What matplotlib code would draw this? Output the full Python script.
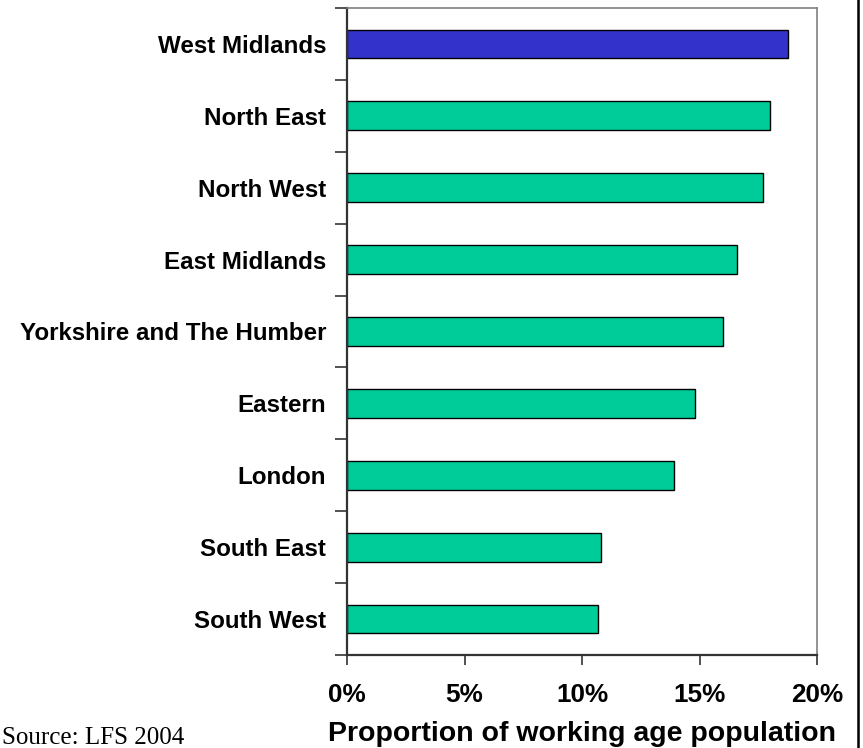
import matplotlib
matplotlib.use("Agg")
import matplotlib.pyplot as plt
from matplotlib.lines import Line2D
from matplotlib.ticker import FuncFormatter

# Regions, top to bottom, with share of working age population (%)
regions = ["West Midlands", "North East", "North West", "East Midlands",
           "Yorkshire and The Humber", "Eastern", "London", "South East",
           "South West"]
shares = [18.75, 18.0, 17.7, 16.6, 16.0, 14.8, 13.9, 10.8, 10.7]
highlight = "West Midlands"
x_ticks = [0, 5, 10, 15, 20]

W, H, DPI = 863, 748, 100
fig = plt.figure(figsize=(W / DPI, H / DPI), dpi=DPI)
fig.patch.set_facecolor("white")

left, right, top, bottom = 347, 817, 8, 655
ax = fig.add_axes([left / W, 1 - bottom / H, (right - left) / W, (bottom - top) / H])

pos = list(range(len(regions)))
colors = ["#3333CC" if r == highlight else "#00CC99" for r in regions]
ax.barh(pos, shares, height=0.4, color=colors, edgecolor="black", linewidth=1.0)

ax.set_ylim(len(regions) - 0.5, -0.5)
ax.set_xlim(0, 20)

label_font = dict(family="Liberation Sans", weight="bold")

ax.set_yticks(pos)
ax.set_yticklabels(regions, fontsize=17.4, **label_font)
ax.tick_params(axis="y", which="major", length=0, pad=15)
ax.set_yticks([p - 0.5 for p in pos] + [len(regions) - 0.5], minor=True)
ax.tick_params(axis="y", which="minor", length=9, width=1.2, color="#333333", direction="out")

ax.set_xticks(x_ticks)
ax.xaxis.set_major_formatter(FuncFormatter(lambda v, _: f"{v:.0f}%"))
for t in ax.get_xticklabels():
    t.set_fontsize(18.8)
    t.set_fontfamily("Liberation Sans")
    t.set_fontweight("bold")
ax.tick_params(axis="x", length=7, width=1.2, color="#333333", direction="out", pad=13)

ax.set_xlabel("Proportion of working age population", fontsize=20.5,
              labelpad=10, **label_font)

for side in ("left", "bottom"):
    ax.spines[side].set_color("#333333")
    ax.spines[side].set_linewidth(1.6)
for side in ("top", "right"):
    ax.spines[side].set_color("#808080")
    ax.spines[side].set_linewidth(1.2)

# Right-hand frame line of the figure
fig.add_artist(Line2D([858 / W, 858 / W], [0, 1], transform=fig.transFigure,
                      color="black", linewidth=1.8))

# Source note in the lower-left corner
fig.text(2 / W, 4 / H, "Source: LFS 2004", ha="left", va="baseline",
         fontsize=18, family="Liberation Serif", color="black")

fig.savefig("out.png", dpi=DPI, facecolor="white")
